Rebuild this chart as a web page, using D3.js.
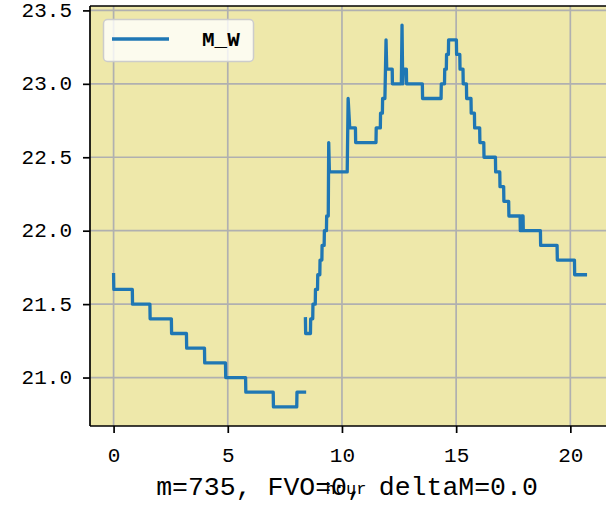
<!DOCTYPE html>
<html>
<head>
<meta charset="utf-8">
<script src="https://cdn.jsdelivr.net/npm/d3@7"></script>
<style>
  html, body { margin: 0; padding: 0; background: #ffffff; }
  svg { display: block; }
  text { font-family: "Liberation Mono", "DejaVu Sans Mono", monospace; fill: #000; }
</style>
</head>
<body>
<script>
// Morning run of the M_W reading (hour, value)
const hoursA = [0.00, 0.01, 0.82, 0.83, 1.59, 1.60, 2.53, 2.54, 3.19, 3.20, 3.98, 3.99,
  4.90, 4.91, 5.78, 5.79, 6.99, 7.00, 8.02, 8.03, 8.36];
const valuesA = [21.7, 21.6, 21.6, 21.5, 21.5, 21.4, 21.4, 21.3, 21.3, 21.2, 21.2, 21.1,
  21.1, 21.0, 21.0, 20.9, 20.9, 20.8, 20.8, 20.9, 20.9];

// Afternoon run of the M_W reading (hour, value)
const hoursB = [8.40, 8.41, 8.62, 8.63, 8.72, 8.73, 8.83, 8.84, 8.93, 8.94, 9.03, 9.04,
  9.12, 9.13, 9.22, 9.23, 9.32, 9.33, 9.40, 9.42, 9.45, 10.23, 10.27, 10.34, 10.59, 10.60,
  11.49, 11.50, 11.68, 11.69, 11.77, 11.78, 11.88, 11.93, 11.96, 12.20, 12.21, 12.60,
  12.63, 12.66, 12.69, 12.82, 12.83, 13.52, 13.53, 14.34, 14.35, 14.49, 14.50, 14.57,
  14.58, 14.66, 14.67, 15.01, 15.02, 15.16, 15.17, 15.30, 15.31, 15.45, 15.46, 15.65,
  15.66, 15.80, 15.81, 16.03, 16.04, 16.21, 16.22, 16.72, 16.73, 16.91, 16.92, 17.08,
  17.09, 17.30, 17.31, 17.80, 17.81, 17.86, 17.87, 17.93, 17.94, 18.69, 18.70, 19.42,
  19.43, 20.18, 20.19, 20.66];
const valuesB = [21.4, 21.3, 21.3, 21.4, 21.4, 21.5, 21.5, 21.6, 21.6, 21.7, 21.7, 21.8,
  21.8, 21.9, 21.9, 22.0, 22.0, 22.1, 22.1, 22.6, 22.4, 22.4, 22.9, 22.7, 22.7, 22.6,
  22.6, 22.7, 22.7, 22.8, 22.8, 22.9, 22.9, 23.3, 23.1, 23.1, 23.0, 23.0,
  23.4, 23.0, 23.1, 23.1, 23.0, 23.0, 22.9, 22.9, 23.0, 23.0, 23.1, 23.1,
  23.2, 23.2, 23.3, 23.3, 23.2, 23.2, 23.1, 23.1, 23.0, 23.0, 22.9, 22.9,
  22.8, 22.8, 22.7, 22.7, 22.6, 22.6, 22.5, 22.5, 22.4, 22.4, 22.3, 22.3,
  22.2, 22.2, 22.1, 22.1, 22.0, 22.0, 22.1, 22.1, 22.0, 22.0, 21.9, 21.9,
  21.8, 21.8, 21.7, 21.7];

const xTicks = [0, 5, 10, 15, 20];
const yTicks = [21.0, 21.5, 22.0, 22.5, 23.0, 23.5];
const seriesName = "M_W";
const xLabel = "hour";
const footText = "m=735, FVO=0, deltaM=0.0";

const W = 606, H = 508;
const plot = { left: 90, right: 609, top: 6, bottom: 426 };

const svg = d3.select("body").append("svg").attr("width", W).attr("height", H);

const allX = hoursA.concat(hoursB), allY = valuesA.concat(valuesB);
const [x0, x1] = d3.extent(allX), [y0, y1] = d3.extent(allY);
const mx = (x1 - x0) * 0.05, my = (y1 - y0) * 0.05;

const x = d3.scaleLinear().domain([x0 - mx, x1 + mx]).range([plot.left, plot.right]);
const y = d3.scaleLinear().domain([y0 - my, y1 + my]).range([plot.bottom, plot.top]);

// axes background
svg.append("rect")
  .attr("x", plot.left).attr("y", plot.top)
  .attr("width", plot.right - plot.left).attr("height", plot.bottom - plot.top)
  .attr("fill", "#eee8aa");

// grid
const grid = svg.append("g").attr("stroke", "#b0b0b0").attr("stroke-width", 1.7);
grid.selectAll(".gx").data(xTicks).join("line")
  .attr("x1", d => x(d)).attr("x2", d => x(d))
  .attr("y1", plot.top).attr("y2", plot.bottom);
grid.selectAll(".gy").data(yTicks).join("line")
  .attr("x1", plot.left).attr("x2", plot.right)
  .attr("y1", d => y(d)).attr("y2", d => y(d));

// series
const line = d3.line().x(d => x(d[0])).y(d => y(d[1]));
const segA = hoursA.map((h, i) => [h, valuesA[i]]);
const segB = hoursB.map((h, i) => [h, valuesB[i]]);
svg.selectAll(".series").data([segA, segB]).join("path")
  .attr("d", line)
  .attr("fill", "none")
  .attr("stroke", "#1f77b4")
  .attr("stroke-width", 3.3)
  .attr("stroke-linejoin", "round")
  .attr("stroke-linecap", "square");

// axes
const xAxis = d3.axisBottom(x).tickValues(xTicks).tickFormat(d3.format("d"))
  .tickSizeInner(7).tickSizeOuter(0).tickPadding(14);
const yAxis = d3.axisLeft(y).tickValues(yTicks).tickFormat(d3.format(".1f"))
  .tickSizeInner(7).tickSizeOuter(0).tickPadding(11);

const gx = svg.append("g").attr("transform", `translate(0,${plot.bottom})`).call(xAxis);
const gy = svg.append("g").attr("transform", `translate(${plot.left},0)`).call(yAxis);
[gx, gy].forEach(g => {
  g.select(".domain").remove();
  g.selectAll(".tick line").attr("stroke", "#000").attr("stroke-width", 1.7);
  g.selectAll(".tick text").attr("font-size", 21)
    .attr("font-family", "Liberation Mono, DejaVu Sans Mono, monospace");
});
gy.selectAll(".tick text").attr("dy", "0.28em");

// spines (left, top, bottom, right)
const sp = svg.append("g").attr("stroke", "#000").attr("stroke-width", 1.7).attr("fill", "none");
sp.append("line").attr("x1", plot.left).attr("x2", plot.left).attr("y1", plot.top).attr("y2", plot.bottom);
sp.append("line").attr("x1", plot.left).attr("x2", plot.right).attr("y1", plot.top).attr("y2", plot.top);
sp.append("line").attr("x1", plot.left).attr("x2", plot.right).attr("y1", plot.bottom).attr("y2", plot.bottom);
sp.append("line").attr("x1", plot.right).attr("x2", plot.right).attr("y1", plot.top).attr("y2", plot.bottom);

// legend
const lg = svg.append("g");
lg.append("rect").attr("x", 103.5).attr("y", 19.5).attr("width", 150).attr("height", 42)
  .attr("rx", 4).attr("fill", "#ffffff").attr("fill-opacity", 0.8)
  .attr("stroke", "#cccccc").attr("stroke-width", 1.5);
lg.append("line").attr("x1", 112).attr("x2", 169).attr("y1", 39).attr("y2", 39)
  .attr("stroke", "#1f77b4").attr("stroke-width", 3.3);
lg.append("text").attr("x", 202).attr("y", 46).attr("font-size", 21).attr("font-weight", "bold")
  .text(seriesName);

// x label and footer
svg.append("text").attr("x", 346).attr("y", 494).attr("text-anchor", "middle")
  .attr("font-size", 17).text(xLabel);
svg.append("text").attr("x", 347).attr("y", 495).attr("text-anchor", "middle")
  .attr("font-size", 26.5).text(footText);
</script>
</body>
</html>
